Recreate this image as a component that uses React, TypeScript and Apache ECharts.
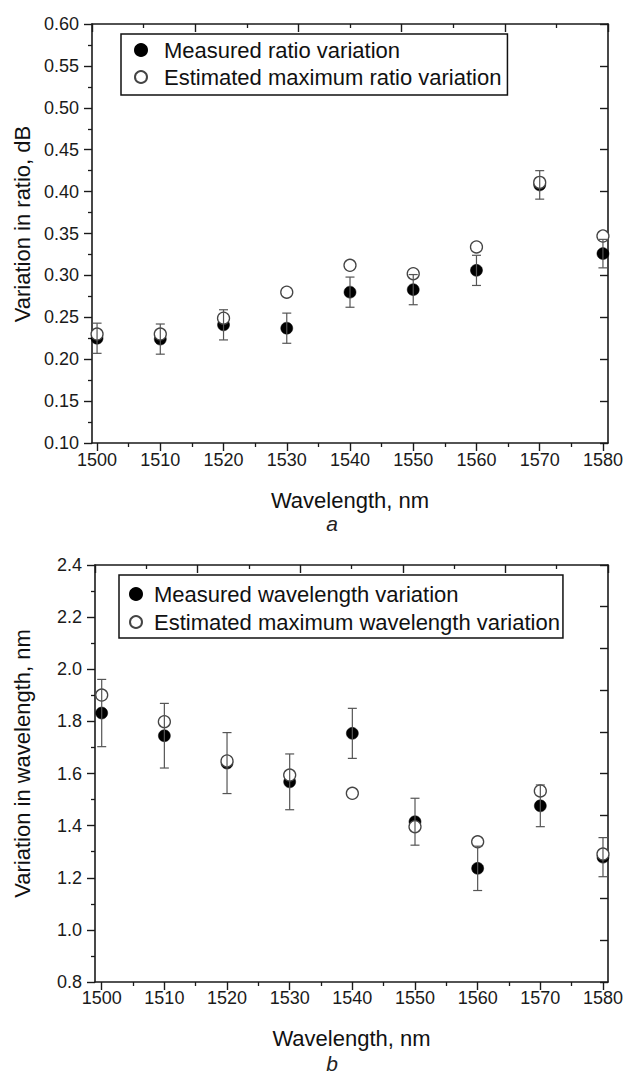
import React, { useEffect, useRef } from "react";
import * as echarts from "echarts";

const wavelengths = [1500, 1510, 1520, 1530, 1540, 1550, 1560, 1570, 1580];
const xTickLabels = [1500, 1510, 1520, 1530, 1540, 1550, 1560, 1570, 1580];
const xMinorTicks = [1505, 1515, 1525, 1535, 1545, 1555, 1565, 1575];

const ratioMeasured = [0.225, 0.224, 0.241, 0.237, 0.28, 0.283, 0.306, 0.408, 0.326];
const ratioEstimated = [0.23, 0.23, 0.249, 0.28, 0.312, 0.302, 0.334, 0.411, 0.347];
const ratioError = [0.018, 0.018, 0.018, 0.018, 0.018, 0.018, 0.018, 0.017, 0.017];

const wlMeasured = [1.832, 1.745, 1.64, 1.568, 1.754, 1.415, 1.236, 1.476, 1.279];
const wlEstimated = [1.901, 1.799, 1.648, 1.594, 1.524, 1.396, 1.338, 1.533, 1.291];
const wlError = [0.129, 0.124, 0.117, 0.107, 0.096, 0.09, 0.085, 0.08, 0.075];

const FONT = '"Liberation Sans", Arial, sans-serif';
const AXIS_COLOR = "#1a1a1a";
const ERR_COLOR = "#555";

function errRender(params: any, api: any) {
  const x = api.value(0);
  const y = api.value(1);
  const e = api.value(2);
  const top = api.coord([x, y + e]);
  const bot = api.coord([x, y - e]);
  const hw = 4.5;
  const style = { stroke: ERR_COLOR, lineWidth: 1.2, fill: null };
  return {
    type: "group",
    children: [
      { type: "line", shape: { x1: top[0], y1: top[1], x2: bot[0], y2: bot[1] }, style },
      { type: "line", shape: { x1: top[0] - hw, y1: top[1], x2: top[0] + hw, y2: top[1] }, style },
      { type: "line", shape: { x1: bot[0] - hw, y1: bot[1], x2: bot[0] + hw, y2: bot[1] }, style },
    ],
  };
}

function bottomAxes(gridIndex: number, min: number, max: number, labelMargin: number, nameGap: number) {
  return [
    {
      type: "value",
      gridIndex,
      position: "bottom",
      min,
      max,
      name: "Wavelength, nm",
      nameLocation: "middle",
      nameGap,
      nameTextStyle: { fontFamily: FONT, fontSize: 22, color: "#111" },
      axisLine: { show: true, onZero: false, lineStyle: { color: AXIS_COLOR, width: 1.6 } },
      axisTick: { show: true, customValues: xTickLabels, length: 8, lineStyle: { color: AXIS_COLOR, width: 1.4 } },
      axisLabel: {
        show: true,
        customValues: xTickLabels,
        fontFamily: FONT,
        fontSize: 18,
        color: "#1a1a1a",
        margin: labelMargin,
        formatter: (v: number) => String(v),
      },
      splitLine: { show: false },
    },
    {
      type: "value",
      gridIndex,
      position: "bottom",
      min,
      max,
      axisLine: { show: false },
      axisTick: { show: true, customValues: xMinorTicks, length: 4, lineStyle: { color: AXIS_COLOR, width: 1.3 } },
      axisLabel: { show: false },
      splitLine: { show: false },
    },
    {
      type: "value",
      gridIndex,
      position: "top",
      min: -1,
      max: 4,
      interval: 1,
      axisLine: { show: true, onZero: false, lineStyle: { color: AXIS_COLOR, width: 1.6 } },
      axisTick: { show: true, inside: true, length: 8, lineStyle: { color: AXIS_COLOR, width: 1.4 } },
      minorTick: { show: true, splitNumber: 2, length: 4, lineStyle: { color: AXIS_COLOR, width: 1.3 } },
      axisLabel: { show: false },
      splitLine: { show: false },
      minorSplitLine: { show: false },
    },
  ];
}

function leftRightAxes(gridIndex: number, min: number, max: number, interval: number, digits: number) {
  return [
    {
      type: "value",
      gridIndex,
      position: "left",
      min,
      max,
      interval,
      axisLine: { show: true, onZero: false, lineStyle: { color: AXIS_COLOR, width: 1.6 } },
      axisTick: { show: true, length: 8, lineStyle: { color: AXIS_COLOR, width: 1.4 } },
      minorTick: { show: true, splitNumber: 2, length: 4, lineStyle: { color: AXIS_COLOR, width: 1.3 } },
      axisLabel: {
        fontFamily: FONT,
        fontSize: 18,
        color: "#1a1a1a",
        margin: 13,
        formatter: (v: number) => v.toFixed(digits),
      },
      splitLine: { show: false },
      minorSplitLine: { show: false },
    },
    {
      type: "value",
      gridIndex,
      position: "right",
      min: 0,
      max: 10,
      interval: 1,
      axisLine: { show: true, onZero: false, lineStyle: { color: AXIS_COLOR, width: 1.6 } },
      axisTick: { show: true, inside: true, length: 8, lineStyle: { color: AXIS_COLOR, width: 1.4 } },
      axisLabel: { show: false },
      splitLine: { show: false },
    },
  ];
}

export default function App() {
  const ref = useRef<HTMLDivElement>(null);

  useEffect(() => {
    if (!ref.current) return;
    const chart = echarts.init(ref.current, null, { renderer: "svg" });

    const filledStyle = { color: "#000", borderColor: "#000", borderWidth: 0.5, opacity: 1 };
    const hollowStyle = { color: "#fff", borderColor: "#444", borderWidth: 1.3, opacity: 1 };

    const option: any = {
      animation: false,
      backgroundColor: "#fff",
      textStyle: { fontFamily: FONT },
      grid: [
        { left: 92, top: 24, width: 516, height: 419, containLabel: false },
        { left: 95, top: 565, width: 514, height: 417, containLabel: false },
      ],
      xAxis: [
        ...bottomAxes(0, 1499.2, 1580.8, 8, 46),
        ...bottomAxes(1, 1498.93, 1580.8, 7, 45),
      ],
      yAxis: [
        ...leftRightAxes(0, 0.1, 0.6, 0.05, 2),
        ...leftRightAxes(1, 0.8, 2.4, 0.2, 1),
      ],
      legend: [
        {
          orient: "vertical",
          left: 121,
          top: 34,
          data: ["Measured ratio variation", "Estimated maximum ratio variation"],
          itemWidth: 36,
          itemHeight: 12,
          itemGap: 5,
          padding: [5, 6, 7, 13],
          borderColor: "#111",
          borderWidth: 1.5,
          borderRadius: 0,
          selectedMode: false,
          textStyle: { fontFamily: FONT, fontSize: 22, color: "#111", lineHeight: 22 },
        },
        {
          orient: "vertical",
          left: 119,
          top: 575,
          data: ["Measured wavelength variation", "Estimated maximum wavelength variation"],
          itemWidth: 26,
          itemHeight: 12,
          itemGap: 6,
          padding: [8, 3, 5, 10],
          borderColor: "#111",
          borderWidth: 1.5,
          borderRadius: 0,
          selectedMode: false,
          textStyle: { fontFamily: FONT, fontSize: 22, color: "#111", lineHeight: 22 },
        },
      ],
      series: [
        {
          name: "Measured ratio variation",
          type: "scatter",
          xAxisIndex: 0,
          yAxisIndex: 0,
          symbol: "circle",
          symbolSize: 12,
          itemStyle: filledStyle,
          data: wavelengths.map((w, i) => [w, ratioMeasured[i]]),
          z: 2,
        },
        {
          name: "Estimated maximum ratio variation",
          type: "scatter",
          xAxisIndex: 0,
          yAxisIndex: 0,
          symbol: "circle",
          symbolSize: 12,
          itemStyle: hollowStyle,
          data: wavelengths.map((w, i) => [w, ratioEstimated[i]]),
          z: 3,
        },
        {
          name: "ratioErr",
          type: "custom",
          xAxisIndex: 0,
          yAxisIndex: 0,
          renderItem: errRender,
          encode: { x: 0, y: 1 },
          data: wavelengths.map((w, i) => [w, ratioMeasured[i], ratioError[i]]),
          z: 4,
          silent: true,
        },
        {
          name: "Measured wavelength variation",
          type: "scatter",
          xAxisIndex: 3,
          yAxisIndex: 2,
          symbol: "circle",
          symbolSize: 12,
          itemStyle: filledStyle,
          data: wavelengths.map((w, i) => [w, wlMeasured[i]]),
          z: 2,
        },
        {
          name: "Estimated maximum wavelength variation",
          type: "scatter",
          xAxisIndex: 3,
          yAxisIndex: 2,
          symbol: "circle",
          symbolSize: 12,
          itemStyle: hollowStyle,
          data: wavelengths.map((w, i) => [w, wlEstimated[i]]),
          z: 3,
        },
        {
          name: "wlErr",
          type: "custom",
          xAxisIndex: 3,
          yAxisIndex: 2,
          renderItem: errRender,
          encode: { x: 0, y: 1 },
          data: wavelengths.map((w, i) => [w, wlMeasured[i], wlError[i]]),
          z: 4,
          silent: true,
        },
      ],
      graphic: [
        {
          type: "text",
          x: 22.5,
          y: 224,
          rotation: Math.PI / 2,
          style: {
            text: "Variation in ratio, dB",
            fontFamily: FONT,
            fontSize: 22,
            fill: "#111",
            textAlign: "center",
            textVerticalAlign: "middle",
          },
        },
        {
          type: "text",
          x: 22.5,
          y: 763.5,
          rotation: Math.PI / 2,
          style: {
            text: "Variation in wavelength, nm",
            fontFamily: FONT,
            fontSize: 22,
            fill: "#111",
            textAlign: "center",
            textVerticalAlign: "middle",
          },
        },
        {
          type: "text",
          x: 332,
          y: 523,
          style: {
            text: "a",
            fontFamily: FONT,
            fontStyle: "italic",
            fontSize: 21,
            fill: "#222",
            textAlign: "center",
            textVerticalAlign: "middle",
          },
        },
        {
          type: "text",
          x: 332,
          y: 1063,
          style: {
            text: "b",
            fontFamily: FONT,
            fontStyle: "italic",
            fontSize: 21,
            fill: "#222",
            textAlign: "center",
            textVerticalAlign: "middle",
          },
        },
      ],
    };

    chart.setOption(option);
    return () => chart.dispose();
  }, []);

  return (
    <div
      ref={ref}
      style={{ position: "fixed", left: 0, top: 0, width: 626, height: 1075, background: "#fff" }}
    />
  );
}
